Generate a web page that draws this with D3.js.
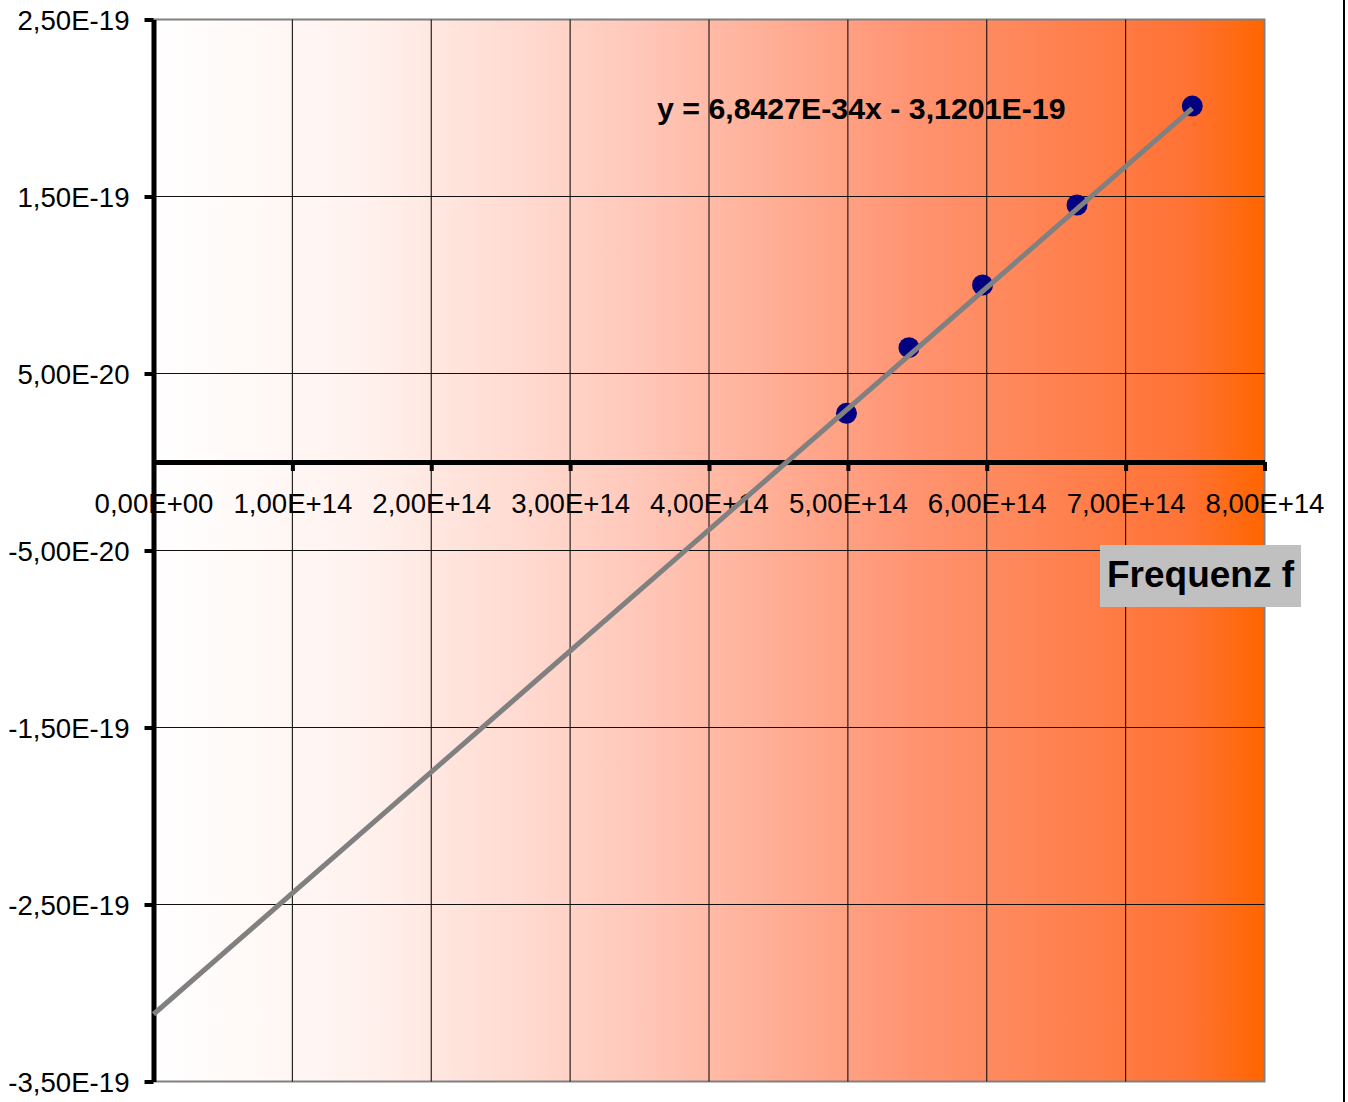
<!DOCTYPE html>
<html>
<head>
<meta charset="utf-8">
<script src="https://cdn.jsdelivr.net/npm/d3@7"></script>
<style>
	body { margin: 0; background: #fff; }
	svg { display: block; font-family: "Liberation Sans", Arial, sans-serif; }
</style>
</head>
<body>
<script>
// data: frequency (Hz) vs energy (J)
var frequency = [4.99e14, 5.44e14, 5.97e14, 6.65e14, 7.48e14];
var energy = [2.75e-20, 6.46e-20, 1.0e-19, 1.452e-19, 2.011e-19];

// linear trend line
var slope = 6.8427e-34;
var intercept = -3.1201e-19;

// axis ticks
var xTicks = [0, 1e14, 2e14, 3e14, 4e14, 5e14, 6e14, 7e14, 8e14];
var yTicks = [2.5e-19, 1.5e-19, 0.5e-19, -0.5e-19, -1.5e-19, -2.5e-19, -3.5e-19];

var equationLabel = "y = 6,8427E-34x - 3,1201E-19";
var xTitle = "Frequenz f";

var svgDims = {
	width: 1348,
	height: 1102,
	plot: { left: 153.5, right: 1264.5, top: 19.5, bottom: 1081.5 }
};

var svg = d3.select("body").append("svg")
	.attr("width", svgDims.width)
	.attr("height", svgDims.height);

var x = d3.scaleLinear().domain([0, 8e14]).range([svgDims.plot.left, svgDims.plot.right]);
var y = d3.scaleLinear().domain([-3.5e-19, 2.5e-19]).range([svgDims.plot.bottom, svgDims.plot.top]);

// "2,50E-19" style labels
var fmtE = function(v) {
	var s = v.toExponential(2);
	var parts = s.split("e");
	var exp = parseInt(parts[1], 10);
	var sign = exp < 0 ? "-" : "+";
	var e = Math.abs(exp);
	return parts[0].replace(".", ",") + "E" + sign + (e < 10 ? "0" + e : e);
};

// background gradient white -> orange
var defs = svg.append("defs");
var grad = defs.append("linearGradient").attr("id", "bg").attr("x1", 0).attr("x2", 1).attr("y1", 0).attr("y2", 0);
[[0, "#ffffff"], [0.19, "#fff2ee"], [0.43, "#ffc9bb"], [0.68, "#ff9472"], [0.93, "#ff7234"], [1, "#ff6600"]]
	.forEach(function(s) {
		grad.append("stop").attr("offset", s[0]).attr("stop-color", s[1]);
	});

var pw = svgDims.plot.right - svgDims.plot.left;
var ph = svgDims.plot.bottom - svgDims.plot.top;

svg.append("rect")
	.attr("x", svgDims.plot.left)
	.attr("y", svgDims.plot.top)
	.attr("width", pw)
	.attr("height", ph)
	.attr("fill", "url(#bg)")
	.attr("stroke", "#808080")
	.attr("stroke-width", 2);

// gridlines
svg.append("g").selectAll("line")
	.data(xTicks.slice(1, -1))
	.enter().append("line")
	.attr("x1", function(d) { return x(d); })
	.attr("x2", function(d) { return x(d); })
	.attr("y1", svgDims.plot.top)
	.attr("y2", svgDims.plot.bottom)
	.attr("stroke", "#111")
	.attr("stroke-width", 1.1);

svg.append("g").selectAll("line")
	.data(yTicks.slice(1, -1))
	.enter().append("line")
	.attr("x1", svgDims.plot.left)
	.attr("x2", svgDims.plot.right)
	.attr("y1", function(d) { return y(d); })
	.attr("y2", function(d) { return y(d); })
	.attr("stroke", "#111")
	.attr("stroke-width", 1.1);

// y axis
var yAxis = svg.append("g")
	.attr("transform", "translate(" + svgDims.plot.left + ",0)")
	.call(d3.axisLeft(y).tickValues(yTicks).tickFormat(fmtE).tickSize(9).tickSizeOuter(0).tickPadding(16));
yAxis.select(".domain").attr("stroke", "#000").attr("stroke-width", 5);
yAxis.selectAll(".tick line").attr("stroke", "#000").attr("stroke-width", 4);
yAxis.selectAll(".tick text")
	.attr("font-size", 27.6)
	.attr("font-family", "Liberation Sans, Arial, sans-serif")
	.attr("fill", "#000")
	.attr("x", -24)
	.attr("dy", "0.36em");

// x axis at y = 0
var xAxis = svg.append("g")
	.attr("transform", "translate(0," + y(0) + ")")
	.call(d3.axisBottom(x).tickValues(xTicks).tickFormat(fmtE).tickSize(9).tickSizeOuter(0));
xAxis.select(".domain").attr("stroke", "#000").attr("stroke-width", 5);
xAxis.selectAll(".tick line").attr("stroke", "#000").attr("stroke-width", 4);
xAxis.selectAll(".tick text")
	.attr("font-size", 27.6)
	.attr("font-family", "Liberation Sans, Arial, sans-serif")
	.attr("fill", "#000")
	.attr("y", 51)
	.attr("dy", 0);

// data points
svg.append("g").selectAll("circle")
	.data(frequency)
	.enter().append("circle")
	.attr("cx", function(d) { return x(d); })
	.attr("cy", function(d, i) { return y(energy[i]); })
	.attr("r", 10.5)
	.attr("fill", "#000080");

// trend line from f = 0 to the last point
var fEnd = d3.max(frequency);
svg.append("line")
	.attr("x1", x(0))
	.attr("y1", y(intercept))
	.attr("x2", x(fEnd))
	.attr("y2", y(slope * fEnd + intercept))
	.attr("stroke", "#808080")
	.attr("stroke-width", 5);

// equation
svg.append("text")
	.attr("x", 657)
	.attr("y", 119)
	.attr("font-size", 30.3)
	.attr("font-weight", "bold")
	.attr("fill", "#000")
	.text(equationLabel);

// axis title box
svg.append("rect")
	.attr("x", 1100)
	.attr("y", 545)
	.attr("width", 201)
	.attr("height", 62)
	.attr("fill", "#c0c0c0");
svg.append("text")
	.attr("x", 1200.5)
	.attr("y", 587)
	.attr("text-anchor", "middle")
	.attr("font-size", 37)
	.attr("font-weight", "bold")
	.attr("fill", "#000")
	.text(xTitle);

// chart area right border
svg.append("line")
	.attr("x1", 1344).attr("x2", 1344)
	.attr("y1", 0).attr("y2", svgDims.height)
	.attr("stroke", "#000")
	.attr("stroke-width", 2);
</script>
</body>
</html>
